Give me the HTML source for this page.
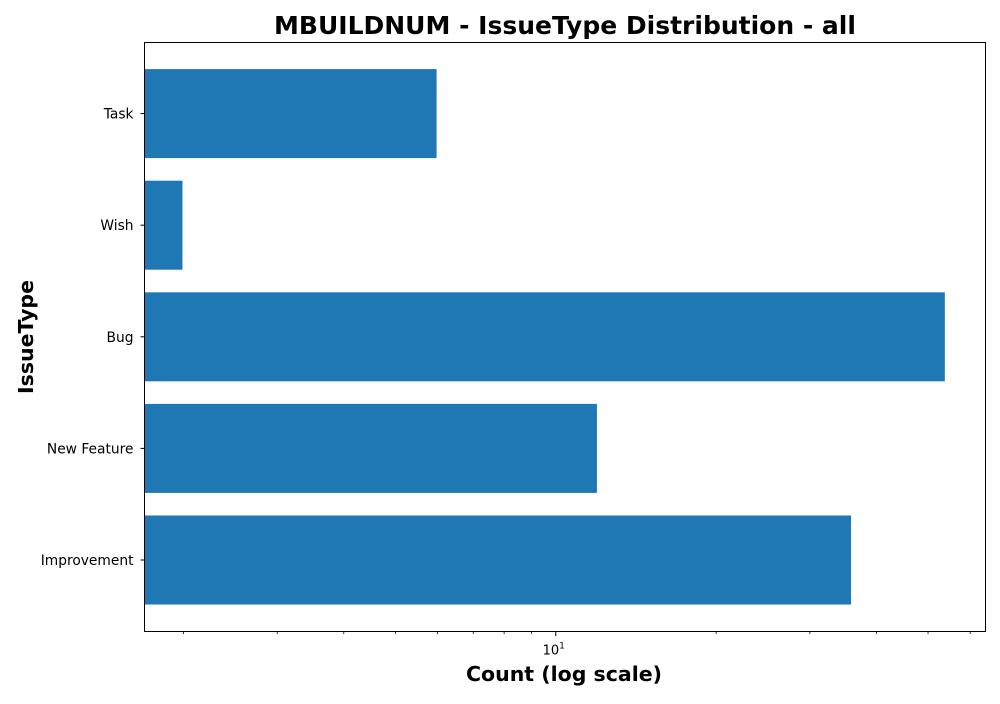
<!DOCTYPE html>
<html><head><meta charset="utf-8"><style>
body{margin:0;background:#fff;font-family:"DejaVu Sans","Liberation Sans",sans-serif}
</style></head><body>
<svg width="1000" height="700" xmlns="http://www.w3.org/2000/svg" font-family="DejaVu Sans, Liberation Sans, sans-serif">
<text x="565" y="34" text-anchor="middle" font-size="25" font-weight="bold">MBUILDNUM - IssueType Distribution - all</text>
<g id="bars"></g>
<g id="yticks"></g>
<g id="xticks"></g>
<rect x="144.5" y="42.5" width="841" height="589" fill="none" stroke="#000" stroke-width="1"/>
<text x="564" y="681" text-anchor="middle" font-size="20.5" font-weight="bold">Count (log scale)</text>
<text transform="translate(33,337) rotate(-90)" text-anchor="middle" font-size="20.5" font-weight="bold">IssueType</text>
</svg>
<script>
const categories = ["Improvement","New Feature","Bug","Wish","Task"];
const counts = [36,12,54,2,6];
const xMin = 1.69, xMax = 64.1;
const L=144.5, R=985.5, T=42.5, B=631.5;
const NS="http://www.w3.org/2000/svg";
function xs(v){return L+(Math.log10(v)-Math.log10(xMin))/(Math.log10(xMax)-Math.log10(xMin))*(R-L);}
function yc(i){return B-27-44.5-i*111.6;}
const bars=document.getElementById('bars'), yt=document.getElementById('yticks'), xt=document.getElementById('xticks');
categories.forEach((c,i)=>{
  const r=document.createElementNS(NS,'rect');
  r.setAttribute('x',L);r.setAttribute('y',yc(i)-44.5);
  r.setAttribute('width',Math.max(0,xs(counts[i])-L-1));r.setAttribute('height',89);
  r.setAttribute('fill','#1f77b4');
  
  
  bars.appendChild(r);
  const ln=document.createElementNS(NS,'line');
  ln.setAttribute('x1',L-4);ln.setAttribute('x2',L);ln.setAttribute('y1',yc(i));ln.setAttribute('y2',yc(i));ln.setAttribute('stroke','#000');
  
  
  yt.appendChild(ln);
  const t=document.createElementNS(NS,'text');
  t.setAttribute('x',L-11);t.setAttribute('y',yc(i)+5);t.setAttribute('text-anchor','end');t.setAttribute('font-size','13.8');
  t.textContent=c;
  
  
  yt.appendChild(t);
});
const minorTicks=[2,3,4,5,6,7,8,9,20,30,40,50,60];
minorTicks.forEach(v=>{
  const ln=document.createElementNS(NS,'line');
  ln.setAttribute('x1',xs(v));ln.setAttribute('x2',xs(v));ln.setAttribute('y1',B);ln.setAttribute('y2',B+2.5);ln.setAttribute('stroke','#000');ln.setAttribute('stroke-width','0.8');
  
  
  xt.appendChild(ln);
});
const majorTicks=[10];
majorTicks.forEach(v=>{
  const ln=document.createElementNS(NS,'line');
  ln.setAttribute('x1',xs(v));ln.setAttribute('x2',xs(v));ln.setAttribute('y1',B);ln.setAttribute('y2',B+4.5);ln.setAttribute('stroke','#000');
  
  
  xt.appendChild(ln);
  const t=document.createElementNS(NS,'text');
  t.setAttribute('x',xs(v)-2);t.setAttribute('y',B+23);t.setAttribute('text-anchor','middle');t.setAttribute('font-size','13');
  t.innerHTML='10<tspan dy="-6" font-size="9">1</tspan>';
  
  
  xt.appendChild(t);
});
</script>
</body></html>
